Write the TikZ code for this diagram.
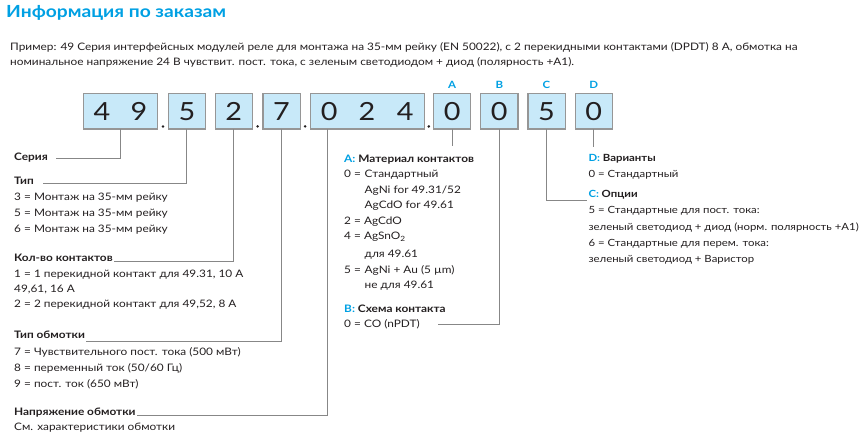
\documentclass[tikz,border=0pt]{standalone}
\usepackage{fontspec}
\setmainfont{Lato}[FakeStretch=1.15]
\usepackage{tikz}
\usetikzlibrary{positioning,calc}
\definecolor{ordCyan}{RGB}{0,160,227}
\definecolor{ordBox}{RGB}{200,233,249}
\definecolor{ordEdge}{RGB}{150,150,150}
\definecolor{ordLine}{RGB}{135,135,135}
\definecolor{ordText}{RGB}{35,31,32}
\newcommand{\optline}[3]{\node[optxt] (#1) at #2 {#3};}
\newcommand{\opthead}[3]{\node[opthd] (#1) at #2 {#3};}
\newcommand{\codedot}[2]{\fill[ordText] ($(#1.south east)!.5!(#2.south west)$) ++(0,-2.6) circle (1.4pt);}

\begin{document}
\begin{tikzpicture}[x=1pt,y=-1pt,
  optxt/.style={anchor=base west,inner sep=0pt,font=\fontsize{10.3}{11}\selectfont,text=ordText},
  opthd/.style={optxt,font=\fontsize{10.3}{11}\selectfont\bfseries},
  rtxt/.style={font=\fontsize{9.9}{11}\selectfont},
  rhd/.style={font=\fontsize{9.9}{11}\selectfont\bfseries},
  digbox/.style={draw=ordEdge,fill=ordBox,line width=1.2pt,minimum height=35.7pt,minimum width=37.2pt,inner sep=0pt,outer sep=0pt,font=\fontsize{25}{25}\selectfont,text=ordText},
  letr/.style={inner sep=0pt,font=\fontsize{10}{10}\selectfont\bfseries,text=ordCyan},
  conn/.style={draw=ordLine,line width=0.9pt}]
\useasboundingbox (0,0) rectangle (868,442);

% title and example
\node[anchor=base west,inner sep=0pt,font=\fontsize{16.7}{16}\selectfont\bfseries,text=ordCyan] (title) at (6,17.5) {Информация по заказам};
\optline{ex1}{(10,50.4)}{Пример: 49 Серия интерфейсных модулей реле для монтажа на 35-мм рейку (EN 50022), с 2 перекидными контактами (DPDT) 8 A, обмотка на}
\optline{ex2}{(10,65.4)}{номинальное напряжение 24 В чувствит. пост. тока, с зеленым светодиодом + диод (полярность +A1).}

% code boxes
\node[digbox,minimum width=74.4pt] (b49) at (120.5,111.2) {\makebox[37.2pt]{4}\makebox[37.2pt]{9}};
\node[digbox,right=10.6pt of b49] (b5) {5};
\node[digbox,right=9.6pt of b5] (b2) {2};
\node[digbox,right=10.6pt of b2] (b7) {7};
\node[digbox,right=10pt of b7,minimum width=114pt] (b024) {\makebox[38pt]{0}\makebox[38pt]{2}\makebox[38pt]{4}};
\node[digbox,right=9.4pt of b024] (bA) {0};
\node[digbox,right=10pt of bA] (bB) {0};
\node[digbox,right=10pt of bB] (bC) {5};
\node[digbox,right=10pt of bC] (bD) {0};
\codedot{b49}{b5} \codedot{b2}{b7} \codedot{b7}{b024} \codedot{b024}{bA}
\node[letr,above=5pt of bA] (lA) {A};
\node[letr,above=5pt of bB] (lB) {B};
\node[letr,above=5pt of bC] (lC) {C};
\node[letr,above=5pt of bD] (lD) {D};

% left column
\opthead{ser}{(14,160.4)}{Серия}
\opthead{tip}{(14,184.4)}{Тип}
\optline{tip3}{(14,200.4)}{3 = Монтаж на 35-мм рейку}
\optline{tip5}{(14,216)}{5 = Монтаж на 35-мм рейку}
\optline{tip6}{(14,232)}{6 = Монтаж на 35-мм рейку}
\opthead{kol}{(14,261.4)}{Кол-во контактов}
\optline{kol1}{(14,277)}{1 = 1 перекидной контакт для 49.31, 10 A}
\optline{kol1b}{(14,292.7)}{49,61, 16 A}
\optline{kol2}{(14,307)}{2 = 2 перекидной контакт для 49,52, 8 A}
\opthead{obm}{(14,338.7)}{Тип обмотки}
\optline{obm7}{(14,355.4)}{7 = Чувствительного пост. тока (500 мВт)}
\optline{obm8}{(14,371.4)}{8 = переменный ток (50/60 Гц)}
\optline{obm9}{(14,387)}{9 = пост. ток (650 мВт)}
\opthead{nap}{(14,415.4)}{Напряжение обмотки}
\optline{napS}{(14,430.4)}{См. характеристики обмотки}

% middle column
\opthead{hA}{(344,162)}{\textcolor{ordCyan}{A:} Материал контактов}
\optline{a0}{(344,177.7)}{\makebox[20.5pt][l]{0 =}Стандартный}
\optline{a0b}{(364.5,193)}{AgNi for 49.31/52}
\optline{a0c}{(364.5,208.7)}{AgCdO for 49.61}
\optline{a2}{(344,224.4)}{2 = AgCdO}
\optline{a4}{(344,239.7)}{4 = AgSnO\textsubscript{2}}
\optline{a4b}{(364.5,257.7)}{для 49.61}
\optline{a5}{(344,273)}{\makebox[20.5pt][l]{5 =}AgNi + Au (5 µm)}
\optline{a5b}{(364.5,288.7)}{не для 49.61}
\opthead{hB}{(344,312)}{\textcolor{ordCyan}{B:} Схема контакта}
\optline{b0}{(344,327.7)}{0 = CO (nPDT)}

% right column
\node[opthd,rhd] (hD) at (588.3,161) {\textcolor{ordCyan}{D:} Варианты};
\node[optxt,rtxt] (d0) at (588.3,177) {0 = Стандартный};
\node[opthd,rhd] (hC) at (588.3,197) {\textcolor{ordCyan}{C:} Опции};
\node[optxt,rtxt] (c5) at (588.3,213.7) {5 = Стандартные для пост. тока:};
\node[optxt,rtxt] (c5b) at (588.3,230.4) {зеленый светодиод + диод (норм. полярность +A1)};
\node[optxt,rtxt] (c6) at (588.3,246.4) {6 = Стандартные для перем. тока:};
\node[optxt,rtxt] (c6b) at (588.3,262) {зеленый светодиод + Варистор};

% connectors
\draw[conn] (b49.south) |- ([xshift=8pt,yshift=2pt]ser.base east);
\draw[conn] (b5.south) |- ([xshift=9pt,yshift=1.4pt]tip.base east);
\draw[conn] (b2.south) |- ([xshift=1pt]kol.base east);
\draw[conn] (b7.south) |- ([xshift=1pt,yshift=-2.3pt]obm.base east);
\draw[conn] ([xshift=17.3pt]b024.south west) |- ([xshift=1pt]nap.base east);
\draw[conn] (bA.south) -- ++(0,16.5);
\draw[conn] (bB.south) |- ([xshift=18pt,yshift=3pt]b0.base east);
\draw[conn] (bC.south) |- ([xshift=-1.5pt,yshift=-3pt]hC.base west);
\draw[conn] (bD.south) -- ++(0,17.5);
\end{tikzpicture}
\end{document}
